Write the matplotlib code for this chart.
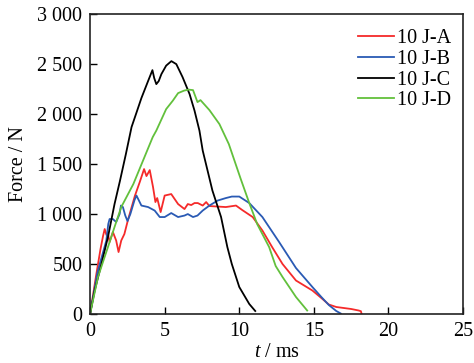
import matplotlib
matplotlib.use("Agg")
import matplotlib.pyplot as plt

plt.rcParams['font.family'] = ['Liberation Serif', 'DejaVu Serif']
plt.rcParams['mathtext.fontset'] = 'custom'
plt.rcParams['mathtext.it'] = 'Liberation Serif:italic'

# 10 J-A (red)
t_a = [0, 0.4, 0.7, 0.87, 0.98, 1.1, 1.2, 1.31, 1.53, 1.75, 1.91, 2.09, 2.3, 2.53,
       2.75, 3.0, 3.33, 3.62, 3.78, 4.0, 4.22, 4.38, 4.5, 4.73, 5.0, 5.44, 5.9,
       6.33, 6.55, 6.78, 7.0, 7.22, 7.55, 7.78, 8.0, 8.55, 9.1, 9.78, 10.2, 10.9,
       11.55, 12.2, 12.9, 13.8, 14.9, 15.5, 16.0, 16.5, 17.0, 17.5, 18.0, 18.15, 18.2]
f_a = [0, 380, 650, 780, 850, 790, 800, 720, 820, 735, 620, 735, 800, 935,
       1050, 1180, 1320, 1450, 1380, 1440, 1270, 1120, 1160, 1020, 1185, 1200, 1100,
       1050, 1100, 1090, 1110, 1110, 1085, 1120, 1080, 1075, 1070, 1085, 1040, 970,
       835, 670, 500, 335, 235, 160, 95, 70, 60, 50, 35, 28, 0]

# 10 J-B (blue)
t_b = [0, 0.5, 1.09, 1.22, 1.31, 1.53, 1.75, 1.98, 2.07, 2.2, 2.36, 2.51, 2.7,
       2.98, 3.11, 3.44, 3.89, 4.33, 4.67, 5.0, 5.33, 5.44, 5.9, 6.33, 6.55, 6.9,
       7.2, 7.55, 8.0, 8.55, 9.1, 9.5, 10.0, 10.67, 11.55, 12.67, 13.8, 14.9, 15.5,
       16.0, 16.5, 16.8]
f_b = [0, 420, 735, 900, 950, 950, 920, 1000, 1085, 1070, 985, 930, 1000,
       1140, 1185, 1085, 1070, 1035, 970, 970, 1000, 1010, 970, 985, 1000, 970,
       985, 1035, 1085, 1135, 1160, 1175, 1175, 1110, 970, 720, 460, 270, 170,
       90, 30, 5]

# 10 J-C (black)
t_c = [0, 0.31, 0.76, 1.2, 1.64, 2.0, 2.4, 2.78, 3.1, 3.44, 3.9, 4.18, 4.3, 4.44,
       4.6, 4.78, 5.1, 5.45, 5.78, 6.2, 6.67, 7.0, 7.33, 7.55, 8.2, 8.78, 9.2, 9.5,
       10.0, 10.67, 11.07]
f_c = [0, 235, 500, 770, 1100, 1330, 1600, 1870, 2010, 2160, 2335, 2440, 2360, 2300,
       2330, 2400, 2485, 2530, 2500, 2370, 2200, 2035, 1835, 1635, 1235, 970, 670, 500,
       270, 100, 30]

# 10 J-D (green)
t_d = [0, 0.53, 1.2, 1.64, 2.09, 2.9, 3.55, 4.2, 4.44, 5.1, 5.55, 5.9, 6.3, 6.6,
       6.9, 7.2, 7.4, 8.0, 8.67, 9.3, 10.1, 10.67, 11.2, 12.0, 12.44, 12.9, 13.8, 14.55]
f_d = [0, 370, 670, 870, 1070, 1300, 1535, 1770, 1835, 2050, 2135, 2210, 2235, 2245,
       2240, 2120, 2140, 2040, 1900, 1700, 1350, 1110, 900, 670, 480, 370, 170, 35]

labels = ['10 J-A', '10 J-B', '10 J-C', '10 J-D']
colors = ['#f52a2a', '#2a5ab4', '#000000', '#62c03c']

x_ticks = [0, 5, 10, 15, 20, 25]
y_ticks = [0, 500, 1000, 1500, 2000, 2500, 3000]
y_tick_labels = ['0', '500', '1 000', '1 500', '2 000', '2 500', '3 000']

fig = plt.figure(figsize=(4.74, 3.63), dpi=100)
ax = fig.add_axes([0.19, 0.135, 0.787, 0.826])

series = [(t_a, f_a), (t_b, f_b), (t_c, f_c), (t_d, f_d)]
for (t, f), lab, col in zip(series, labels, colors):
    ax.plot(t, f, color=col, lw=1.3, label=lab)

ax.set_xlim(0, 25)
ax.set_ylim(0, 3000)
ax.set_xticks(x_ticks)
ax.set_yticks(y_ticks)
ax.set_yticklabels(y_tick_labels)
ax.tick_params(direction='in', length=5, width=1, labelsize=14.5, pad=5.5,
               top=False, right=False)
for s in ax.spines.values():
    s.set_linewidth(1.2)
    s.set_color('#222222')

ax.set_xlabel('$t$ / ms', fontsize=14.5, labelpad=2)
ax.set_ylabel('Force / N', fontsize=14.5, labelpad=7)

ax.legend(loc='upper right', bbox_to_anchor=(1.0, 0.99), frameon=False,
          fontsize=14.5, labelspacing=0.08, handlelength=1.8, handletextpad=0.15,
          borderaxespad=0.2)

fig.savefig('out.png', dpi=100)
